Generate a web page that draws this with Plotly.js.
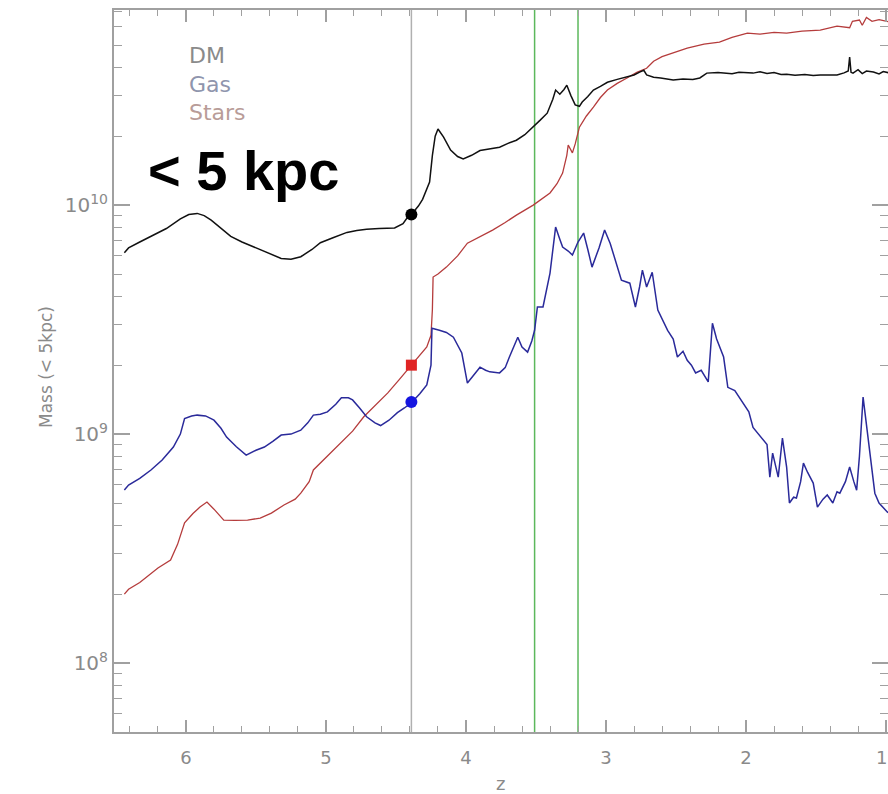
<!DOCTYPE html>
<html>
<head>
<meta charset="utf-8">
<script src="https://cdn.plot.ly/plotly-3.0.1.min.js"></script>
<style>html,body{margin:0;padding:0;background:#fff;}#chart{width:888px;height:794px;}</style>
</head>
<body>
<div id="chart"></div>
<script>
// masses in units of 1e9 solar masses
const dmZ = [6.44,6.41,6.33,6.23,6.14,6.04,5.98,5.92,5.87,5.82,5.75,5.68,5.60,5.51,5.42,5.32,5.25,5.18,5.10,5.04,4.95,4.85,4.78,4.71,4.62,4.51,4.45,4.42,4.39,4.34,4.31,4.26,4.24,4.22,4.20,4.16,4.11,4.06,4.02,3.96,3.90,3.83,3.76,3.70,3.64,3.58,3.52,3.47,3.42,3.38,3.36,3.33,3.30,3.28,3.25,3.22,3.19,3.17,3.13,3.09,3.04,2.99,2.92,2.85,2.80,2.76,2.73,2.71,2.66,2.61,2.52,2.45,2.38,2.33,2.30,2.28,2.20,2.10,2.05,1.95,1.90,1.85,1.80,1.75,1.71,1.65,1.58,1.52,1.47,1.40,1.35,1.30,1.27,1.26,1.25,1.236,1.20,1.17,1.14,1.09,1.05,1.02,0.97];
const dmM = [6.2,6.5,6.9,7.4,7.9,8.7,9.1,9.2,9.0,8.6,7.9,7.3,6.9,6.55,6.2,5.85,5.8,5.95,6.4,6.85,7.2,7.6,7.75,7.85,7.9,7.95,8.3,8.8,9.1,9.9,10.6,12.6,16.5,20.0,21.5,19.8,17.4,16.3,15.9,16.5,17.3,17.6,17.9,18.6,19.2,20.3,21.9,23.5,25.2,29.0,31.8,30.5,32.0,33.4,30.0,27.4,27.0,28.2,29.8,31.8,33.0,34.4,35.4,36.2,37.0,38.1,38.8,37.0,36.2,35.9,35.2,35.5,35.4,35.9,36.8,37.7,37.9,37.5,38.0,37.7,38.2,37.6,37.9,37.2,37.3,36.9,37.2,36.8,37.0,36.9,37.0,37.8,38.5,44.3,38.0,37.7,39.0,37.5,38.5,38.1,37.4,38.3,37.7];

const gasZ = [6.44,6.41,6.33,6.25,6.17,6.09,6.04,6.01,5.96,5.92,5.86,5.80,5.75,5.71,5.64,5.57,5.50,5.44,5.38,5.32,5.25,5.18,5.13,5.09,5.04,4.99,4.93,4.89,4.84,4.81,4.76,4.71,4.65,4.61,4.55,4.49,4.44,4.39,4.33,4.28,4.25,4.243,4.19,4.14,4.09,4.05,4.03,3.99,3.95,3.90,3.86,3.83,3.76,3.72,3.69,3.63,3.60,3.56,3.53,3.51,3.49,3.45,3.40,3.36,3.33,3.31,3.27,3.24,3.20,3.16,3.13,3.10,3.05,3.01,2.97,2.93,2.89,2.83,2.79,2.76,2.74,2.71,2.67,2.63,2.60,2.56,2.52,2.49,2.45,2.42,2.39,2.36,2.32,2.27,2.24,2.21,2.16,2.13,2.08,2.02,1.98,1.95,1.89,1.85,1.83,1.81,1.77,1.74,1.71,1.69,1.66,1.64,1.61,1.59,1.56,1.52,1.49,1.45,1.42,1.38,1.35,1.33,1.29,1.26,1.23,1.21,1.19,1.164,1.14,1.11,1.08,1.05,1.02,0.99,0.97];
const gasM = [0.57,0.599,0.64,0.697,0.77,0.878,1.0,1.17,1.20,1.21,1.2,1.15,1.06,0.97,0.88,0.809,0.85,0.878,0.93,0.99,1.0,1.04,1.12,1.21,1.22,1.25,1.35,1.44,1.44,1.41,1.3,1.19,1.12,1.09,1.15,1.24,1.30,1.37,1.5,1.64,2.0,2.90,2.84,2.78,2.65,2.4,2.26,1.67,1.8,1.96,1.9,1.87,1.85,1.95,2.17,2.65,2.4,2.28,2.55,2.84,3.59,3.59,5.05,8.02,7.1,6.56,6.3,6.05,6.9,7.55,6.4,5.36,6.5,7.78,6.8,5.6,4.70,4.56,3.59,4.4,5.20,4.39,5.09,3.48,3.2,2.84,2.6,2.17,2.3,2.10,2.0,1.85,1.9,1.69,3.05,2.6,2.17,1.60,1.55,1.37,1.25,1.07,0.97,0.9,0.649,0.826,0.649,0.961,0.718,0.50,0.53,0.526,0.62,0.747,0.68,0.611,0.48,0.52,0.542,0.50,0.56,0.552,0.62,0.718,0.62,0.569,0.8,1.45,1.1,0.794,0.552,0.5,0.48,0.456,0.45];

const starZ = [6.44,6.41,6.33,6.28,6.20,6.11,6.06,6.01,5.95,5.90,5.85,5.80,5.73,5.65,5.56,5.47,5.39,5.30,5.22,5.18,5.12,5.09,5.00,4.89,4.81,4.73,4.65,4.56,4.48,4.39,4.33,4.28,4.25,4.24,4.235,4.20,4.14,4.06,3.99,3.90,3.81,3.72,3.64,3.52,3.45,3.40,3.35,3.31,3.28,3.27,3.24,3.22,3.19,3.14,3.09,3.04,2.99,2.92,2.85,2.78,2.71,2.66,2.60,2.50,2.42,2.30,2.19,2.10,1.99,1.90,1.80,1.71,1.60,1.47,1.35,1.26,1.24,1.19,1.17,1.14,1.10,1.05,0.97];
const starM = [0.20,0.21,0.225,0.238,0.26,0.282,0.33,0.41,0.45,0.48,0.505,0.47,0.421,0.42,0.421,0.43,0.452,0.49,0.52,0.552,0.62,0.697,0.79,0.914,1.03,1.19,1.33,1.51,1.72,2.00,2.2,2.40,2.7,3.5,4.85,5.0,5.36,6.0,6.82,7.3,7.78,8.4,9.04,10.0,10.7,11.3,12.4,13.8,16.5,18.3,16.9,18.5,21.9,24.5,26.8,29.5,31.8,34.0,35.9,38.0,39.6,42.5,44.5,46.5,48.5,50.5,51.5,54.0,56.4,55.8,56.8,56.4,57.5,58.1,60.5,59.5,63.5,64.3,61.0,66.0,63.5,64.5,63.0];

// highlighted snapshot (z, DM, Stars, Gas) and the two green epochs
const snapZ = 4.39;
const snapM = {dm: 9.1, stars: 2.0, gas: 1.38};
const greenZ = [3.51, 3.2];

const unit = 1e9;
const yTickVals = [1e8, 1e9, 1e10];
const yTickText = ['10<sup>8</sup>', '10<sup>9</sup>', '10<sup>10</sup>'];
const xTickVals = [6, 5, 4, 3, 2, 1];
const xTickText = ['6', '5', '4', '3', '2', ''];
const xEdgeLabel = '1';   // label of the z = 1 tick, at the right edge of the frame
const legendNames = ['DM', 'Gas', 'Stars'];
const legendColors = ['#8a8a8a', '#8f95ad', '#b89c98'];

const toMass = a => a.map(v => v * unit);

const traces = [
  {x: starZ, y: toMass(starM), mode: 'lines', line: {color: '#b53c3c', width: 1.3}, name: 'Stars'},
  {x: gasZ, y: toMass(gasM), mode: 'lines', line: {color: '#2a2a9a', width: 1.5}, name: 'Gas'},
  {x: dmZ, y: toMass(dmM), mode: 'lines', line: {color: '#111', width: 1.5}, name: 'DM'},
  {x: [snapZ], y: [snapM.dm * unit], mode: 'markers', marker: {color: '#000', size: 12, symbol: 'circle'}},
  {x: [snapZ], y: [snapM.stars * unit], mode: 'markers', marker: {color: '#e02424', size: 11, symbol: 'square'}},
  {x: [snapZ], y: [snapM.gas * unit], mode: 'markers', marker: {color: '#1515e0', size: 12, symbol: 'circle'}}
];

const shapes = [
  {type: 'line', xref: 'x', yref: 'paper', x0: snapZ, x1: snapZ, y0: 0, y1: 1, line: {color: '#b0b0b0', width: 1.5}, layer: 'below'}
].concat(greenZ.map(z => ({type: 'line', xref: 'x', yref: 'paper', x0: z, x1: z, y0: 0, y1: 1, line: {color: '#5cb85c', width: 1.5}, layer: 'below'})));

const W = 888, H = 794, L = 114, R = 0, T = 10, B = 62;
const px = x => (x - L) / (W - L - R);
const py = y => (H - B - y) / (H - T - B);

const legendText = legendNames.map((n, i) => '<span style="color:' + legendColors[i] + '">' + n + '</span>').join('<br>');

const annotations = [
  {text: legendText, x: px(187), y: py(41), xref: 'paper', yref: 'paper', xanchor: 'left', yanchor: 'top', align: 'left', showarrow: false, font: {family: 'DejaVu Sans', size: 22, color: '#8a8a8a'}},
  {text: '< 5 kpc', x: px(146), y: py(170), xref: 'paper', yref: 'paper', xanchor: 'left', yanchor: 'middle', showarrow: false, font: {family: 'Liberation Sans', size: 56, color: '#000', weight: 'bold'}},
  {text: 'Mass (< 5kpc)', x: px(46), y: py(367), xref: 'paper', yref: 'paper', xanchor: 'center', yanchor: 'middle', textangle: -90, showarrow: false, font: {family: 'DejaVu Sans', size: 17, color: '#8a8a8a'}},
  {text: 'z', x: px(500), y: py(783), xref: 'paper', yref: 'paper', xanchor: 'center', yanchor: 'middle', showarrow: false, font: {family: 'DejaVu Sans', size: 18, color: '#8a8a8a'}},
  {text: xEdgeLabel, x: 1, y: py(757), xref: 'paper', yref: 'paper', xanchor: 'right', yanchor: 'middle', showarrow: false, borderpad: 0, font: {family: 'DejaVu Sans', size: 18, color: '#8a8a8a'}}
];

const axisCommon = {
  showgrid: false, zeroline: false, showline: true, linecolor: '#a0a0a0', linewidth: 2,
  mirror: 'ticks', ticks: 'inside', tickcolor: '#a0a0a0', tickwidth: 1.5,
  tickfont: {family: 'DejaVu Sans', size: 18, color: '#8a8a8a'}
};

const layout = {
  width: W, height: H,
  margin: {l: L, r: R, t: T, b: B},
  paper_bgcolor: '#fff', plot_bgcolor: '#fff',
  showlegend: false,
  xaxis: Object.assign({}, axisCommon, {
    range: [6.514, 0.986], tickmode: 'array', tickvals: xTickVals, ticktext: xTickText,
    ticklen: 12, ticklabelstandoff: 8,
    minor: {dtick: 0.2, tick0: 0, ticks: 'inside', ticklen: 6, tickcolor: '#a0a0a0', tickwidth: 1}
  }),
  yaxis: Object.assign({}, axisCommon, {
    type: 'log', range: [7.699, 10.852], tickmode: 'array', tickvals: yTickVals, ticktext: yTickText,
    ticklen: 16, tickfont: {family: 'DejaVu Sans', size: 20, color: '#8a8a8a'},
    minor: {dtick: 'D1', ticks: 'inside', ticklen: 8, tickcolor: '#a0a0a0', tickwidth: 1}
  }),
  shapes: shapes,
  annotations: annotations
};

Plotly.newPlot('chart', traces, layout, {displayModeBar: false, staticPlot: true});
</script>
</body>
</html>
